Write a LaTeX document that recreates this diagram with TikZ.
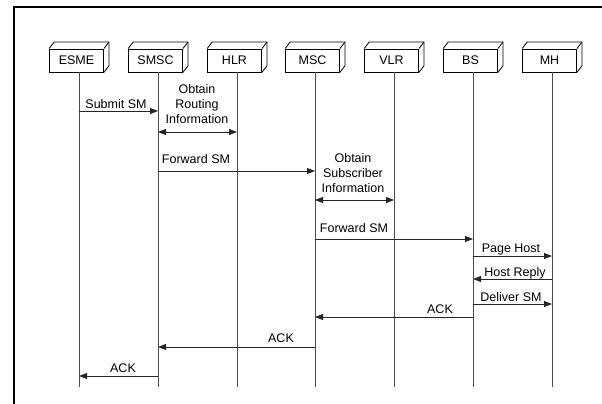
\documentclass[tikz,border=0pt]{standalone}
\usepackage{fontspec}
\setmainfont{Liberation Sans}
\usetikzlibrary{arrows.meta}
\tikzset{
  ent/.style={draw=black, line width=0.8pt, minimum width=54pt, minimum height=23pt, inner sep=0pt, font=\fontsize{12.5}{15}\selectfont},
  boxline/.style={draw=black, line width=0.8pt, line join=miter},
  life/.style={draw=black!70, line width=0.9pt},
  msg/.style={draw=black!85, line width=0.8pt, -{Triangle[length=8pt,width=6pt]}},
  dmsg/.style={draw=black!85, line width=0.8pt, {Triangle[length=8pt,width=6pt]}-{Triangle[length=8pt,width=6pt]}},
  lbl/.style={inner sep=0pt, anchor=base, font=\fontsize{12.5}{15}\selectfont},
  mlbl/.style={inner sep=0pt, anchor=south, align=center, font=\fontsize{12.5}{15}\selectfont},
  frame/.style={draw=black, line width=2pt}
}
\begin{document}
\begin{tikzpicture}[x=1pt,y=-1pt]
\useasboundingbox (0,0) rectangle (602,404);
\fill[white] (0,0) rectangle (602,404);
\draw[frame] (14,404) -- (14,7) -- (602,7);

% lifeline bottoms
\foreach \n/\x in {esme/79,smsc/158,hlr/237,msc/315,vlr/394,bs/473,mh/552}{
  \coordinate (\n B) at (\x,387);
}
\node[ent] (esme) at (76.5,60.5) {ESME};
\node[ent] (smsc) at (155.5,60.5) {SMSC};
\node[ent] (hlr) at (234.5,60.5) {HLR};
\node[ent] (msc) at (312.5,60.5) {MSC};
\node[ent] (vlr) at (391.5,60.5) {VLR};
\node[ent] (bs) at (470.5,60.5) {BS};
\node[ent] (mh) at (549.5,60.5) {MH};

\foreach \n in {esme,smsc,hlr,msc,vlr,bs,mh}{
  \draw[boxline] (\n.north west) -- ++(5,-6.5) -| ([shift={(5,-6.5)}]\n.south east) -- (\n.south east);
  \draw[boxline] (\n.north east) -- ++(5,-6.5);
  \draw[life] (\n.south -| \n B) -- (\n B);
}

% messages
\draw[msg] (esmeB |- 0,111) -- (smscB |- 0,111);
\node[lbl] (l1) at (116,108) {Submit SM};

\draw[dmsg] (smscB |- 0,132) -- (hlrB |- 0,132);
\node[mlbl] (l2) at (197,124) {Obtain\\Routing\\Information};

\draw[msg] (smscB |- 0,171) -- (mscB |- 0,171);
\node[lbl] (l3) at (196,163) {Forward SM};

\draw[dmsg] (mscB |- 0,200) -- (vlrB |- 0,200);
\node[mlbl] (l4) at (353,193) {Obtain\\Subscriber\\Information};

\draw[msg] (mscB |- 0,239) -- (bsB |- 0,239);
\node[lbl] (l5) at (354,232) {Forward SM};

\draw[msg] (bsB |- 0,256) -- (mhB |- 0,256);
\node[lbl] (l6) at (511,252) {Page Host};

\draw[msg] (mhB |- 0,279) -- (bsB |- 0,279);
\node[lbl] (l7) at (515,276) {Host Reply};

\draw[msg] (bsB |- 0,304) -- (mhB |- 0,304);
\node[lbl] (l8) at (511,301) {Deliver SM};

\draw[msg] (bsB |- 0,317) -- (mscB |- 0,317);
\node[lbl] (l9) at (440,313) {ACK};

\draw[msg] (mscB |- 0,347) -- (smscB |- 0,347);
\node[lbl] (l10) at (281,342) {ACK};

\draw[msg] (smscB |- 0,376) -- (esmeB |- 0,376);
\node[lbl] (l11) at (123,372) {ACK};
\end{tikzpicture}
\end{document}
